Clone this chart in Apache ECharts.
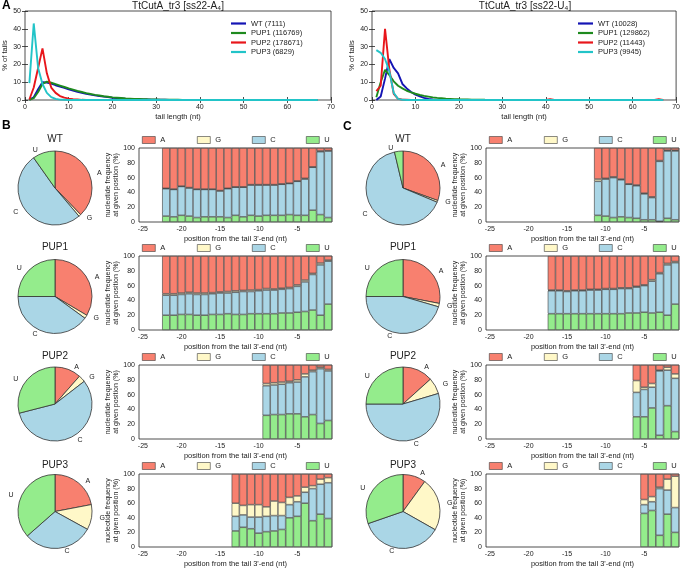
<!DOCTYPE html>
<html><head><meta charset="utf-8">
<script src="https://cdn.jsdelivr.net/npm/echarts@6/dist/echarts.min.js"></script>
<style>html,body{margin:0;padding:0;background:#fff}#c{width:683px;height:569px}</style>
</head><body><div id="c"></div>
<script>
// ---------- DATA ----------
const TITLE_A = 'TtCutA_tr3 [ss22-A\u2084]';
const TITLE_U = 'TtCutA_tr3 [ss22-U\u2084]';
const LINE_NAMES_A = ['WT (7111)', 'PUP1 (116769)', 'PUP2 (178671)', 'PUP3 (6829)'];
const LINE_NAMES_U = ['WT (10028)', 'PUP1 (129862)', 'PUP2 (11443)', 'PUP3 (9945)'];
// % of tails for tail length 1..67
const A4_WT = [0.2,1.5,6,10,9.8,9.2,8.3,7.5,6.8,6,5.3,4.6,4,3.5,3,2.6,2.2,1.9,1.6,1.3,1.1,0.9,0.7,0.6,0.5,0.4,0.3,0.25,0.2,0.15,0.1,0.1,0.08,0.06,0.05,0.04,0.03,0.03,0.02,0.02,0.02,0.01,0.01,0.01,0.01,0.01,0.01,0.01,0.01,0.01,0,0,0,0,0,0,0,0,0,0,0,0,0,0,0,0,0];
const A4_PUP1 = [0.1,1,4.5,9,10.3,9.7,8.9,8.1,7.3,6.5,5.8,5.1,4.5,3.9,3.4,2.9,2.5,2.1,1.8,1.5,1.3,1.1,0.9,0.8,0.65,0.55,0.45,0.38,0.32,0.27,0.22,0.18,0.15,0.12,0.1,0.08,0.07,0.06,0.05,0.04,0.04,0.03,0.03,0.03,0.02,0.02,0.02,0.02,0.02,0.02,0.01,0.01,0.01,0.01,0.01,0.01,0.01,0.01,0.01,0.01,0.01,0.01,0.01,0.01,0.01,0.01,0.01];
const A4_PUP2 = [0.3,7,18,29,15,7,4,2.2,1.3,0.8,0.5,0.3,0.1,0,0,0,0,0,0,0,0,0,0,0,0,0,0,0,0,0,0,0,0,0,0,0,0,0,0,0,0,0,0,0,0,0,0,0,0,0,0,0,0,0,0,0,0,0,0,0,0,0,0,0,0,0,0];
const A4_PUP3 = [9.5,43,18,9,4,1.6,0.6,0.2,0.1,0,0,0,0,0,0,0,0,0,0,0,0,0,0,0,0,0,0,0,0,0,0,0,0,0,0,0,0,0,0,0,0,0,0,0,0,0,0,0,0,0,0,0,0,0,0,0,0,0,0,0,0,0,0,0,0,0,0];
const U4_WT = [0,2,12,23,18,15,9,6.5,4.5,3,2,1.2,0.6,0.3,0.1,0,0,0,0,0,0,0,0,0,0,0,0,0,0,0,0,0,0,0,0,0,0,0,0,0,0,0,0,0,0,0,0,0,0,0,0,0,0,0,0,0,0,0,0,0,0,0,0,0,0,0,0];
const U4_PUP1 = [1.5,10,17,14,10.5,8,6.5,5.2,4.3,3.5,2.8,2.3,1.9,1.5,1.2,1,0.8,0.65,0.5,0.4,0.32,0.26,0.2,0.16,0.13,0.1,0.08,0.06,0.05,0.04,0.03,0.02,0.02,0.01,0.01,0,0,0,0,0,0,0,0,0,0,0,0,0,0,0,0,0,0,0,0,0,0,0,0,0,0,0,0,0,0,0,0];
const U4_PUP2 = [5,8,40,17,3.5,0.7,0.2,0.1,0,0,0,0,0,0,0,0,0,0,0,0,0,0,0,0,0,0,0,0,0,0,0,0,0,0,0,0,0,0,0,0,0.4,0,0,0,0,0,0,0,0,0,0,0,0,0,0,0,0,0,0,0,0,0,0,0,0,0.4,0];
const U4_PUP3 = [28,26.5,23,16,4,0.6,0.1,0,0,0,0,0,0,0,0,0,0,0,0,0,0,0,0,0,0,0,0,0,0,0,0,0,0,0,0,0,0,0,0,0,0,0,0,0,0,0,0,0,0,0,0,0,0,0,0,0,0,0,0,0,0,0,0,0,0,0,0];

const NUCS = ['A', 'G', 'C', 'U'];
const POSITIONS = ['-25','-24','-23','-22','-21','-20','-19','-18','-17','-16','-15','-14','-13','-12','-11','-10','-9','-8','-7','-6','-5','-4','-3','-2','-1'];
const SAMPLE_NAMES = ['WT', 'PUP1', 'PUP2', 'PUP3'];

// Panel B (ss22-A4) – nucleotide frequency (%) from first position to -1
const B_WT_FIRST = -22;
const B_WT_U = [8,7,9,8,6,7,7,7,6,9,7,9,8,9,9,9,10,9,9,16,10,6];
const B_WT_C = [37,37,39,38,38,37,37,35,39,38,40,41,42,41,41,42,42,46,49,58,85,90];
const B_WT_G = [0.5,0.5,0.5,0.5,0.5,0.5,0.5,0.5,0.5,0.5,0.5,0.5,0.5,0.5,0.5,0.5,0.5,0.5,1,0.5,1,0.5];
const B_WT_A = [54.5,55.5,51.5,53.5,55.5,55.5,55.5,57.5,54.5,52.5,52.5,49.5,49.5,49.5,49.5,48.5,47.5,44.5,41,25.5,4,3.5];

const B_PUP1_FIRST = -22;
const B_PUP1_U = [20,20,21,21,20,20,21,21,22,21,21,22,22,22,22,23,23,24,25,27,20,35];
const B_PUP1_C = [27,27,27,28,28,28,28,29,28,30,31,30,31,32,32,32,33,35,40,48,68,58];
const B_PUP1_G = [2,2,2,2,2,2,1.5,1.5,2,2,1.5,2,1.5,2,1.5,1.5,1.5,2,2.5,1.5,2.5,1.5];
const B_PUP1_A = [51,51,50,49,50,50,49.5,48.5,48,47,46.5,46,45.5,44,44.5,43.5,42.5,39,32.5,23.5,9.5,5.5];

const B_PUP2_FIRST = -9;
const B_PUP2_U = [32,33,33,34,34,30,33,21,25];
const B_PUP2_C = [40,40,41,42,43,54,58,74,67];
const B_PUP2_G = [3,3,3,2,3,4,2,2,2];
const B_PUP2_A = [25,24,23,22,20,12,7,3,6];

const B_PUP3_FIRST = -13;
const B_PUP3_U = [22,27,25,19,21,22,24,40,42,60,36,45,39];
const B_PUP3_C = [20,17,16,22,21,21,19,18,20,15,44,41,49];
const B_PUP3_G = [18,13,17,17,13,20,18,10,8,7,4,7,7];
const B_PUP3_A = [40,43,42,42,45,37,39,32,30,18,16,7,5];

// Panel C (ss22-U4)
const C_WT_FIRST = -11;
const C_WT_U = [9,8,6,7,6,5,3,3,1,5,3];
const C_WT_C = [46,50,54,50,45,44,35,30,81,91,93];
const C_WT_G = [3,1,1,1,0.5,1,1,1,1,1,1];
const C_WT_A = [42,41,39,42,48.5,50,61,66,17,3,3];

const C_PUP1_FIRST = -17;
const C_PUP1_U = [22,22,22,22,22,22,22,22,22,22,23,23,24,23,24,20,35];
const C_PUP1_C = [31,31,30,31,31,32,32,33,33,34,33,35,36,43,52,68,56];
const C_PUP1_G = [1,1,1,1,1,1,1,1,1,1,1,1,1,2,1.5,2,1.5];
const C_PUP1_A = [46,46,47,46,46,45,45,44,44,43,43,41,39,32,22.5,10,7.5];

const C_PUP2_FIRST = -6;
const C_PUP2_U = [30,30,42,5,45,10];
const C_PUP2_C = [33,37,28,87,48,72];
const C_PUP2_G = [16,3,5,1,4,6];
const C_PUP2_A = [21,30,25,7,3,12];

const C_PUP3_FIRST = -5;
const C_PUP3_U = [46,50,16,45,20];
const C_PUP3_C = [12,12,64,33,34];
const C_PUP3_G = [7,7,2,15,43];
const C_PUP3_A = [35,31,18,7,3];

// Pie composition (%) in order A, G, C, U
const PIE_B_WT = [37.8,1,51.4,9.8];
const PIE_B_PUP1 = [33.5,1.5,40,25];
const PIE_B_PUP2 = [11.5,3,56.5,29];
const PIE_B_PUP3 = [22,11,30.5,36.5];
const PIE_C_WT = [30.5,0.8,65,3.7];
const PIE_C_PUP1 = [28,1.5,45.5,25];
const PIE_C_PUP2 = [13.3,7.1,54.6,25];
const PIE_C_PUP3 = [10,23.2,36.5,30.3];

// ---------- STYLE / LAYOUT ----------
const FONT = 'Liberation Sans, Arial, sans-serif';
const TXT = '#222';
const NUC_COLOR = {A: '#f8806f', G: '#fff8c8', C: '#aad6e6', U: '#94ec8c'};
const LINE_COLORS = ['#1414b4', '#1e8a1e', '#e8161b', '#22c4c8'];
const ROW_TOP = [148, 256, 365, 474];
const BAR_H = 74;
const PIE_Y = [188, 296.5, 404, 511.5];
const PIE_TITLE_Y = [139, 247, 356, 465];
const COLS = [
  {barLeft: 139, barW: 193, pieX: 55, legX: [142, 197, 252, 306]},
  {barLeft: 486, barW: 193, pieX: 403, legX: [489, 544, 599, 653]}
];

const panels = [
  [{first:B_WT_FIRST,U:B_WT_U,C:B_WT_C,G:B_WT_G,A:B_WT_A,pie:PIE_B_WT},
   {first:B_PUP1_FIRST,U:B_PUP1_U,C:B_PUP1_C,G:B_PUP1_G,A:B_PUP1_A,pie:PIE_B_PUP1},
   {first:B_PUP2_FIRST,U:B_PUP2_U,C:B_PUP2_C,G:B_PUP2_G,A:B_PUP2_A,pie:PIE_B_PUP2},
   {first:B_PUP3_FIRST,U:B_PUP3_U,C:B_PUP3_C,G:B_PUP3_G,A:B_PUP3_A,pie:PIE_B_PUP3}],
  [{first:C_WT_FIRST,U:C_WT_U,C:C_WT_C,G:C_WT_G,A:C_WT_A,pie:PIE_C_WT},
   {first:C_PUP1_FIRST,U:C_PUP1_U,C:C_PUP1_C,G:C_PUP1_G,A:C_PUP1_A,pie:PIE_C_PUP1},
   {first:C_PUP2_FIRST,U:C_PUP2_U,C:C_PUP2_C,G:C_PUP2_G,A:C_PUP2_A,pie:PIE_C_PUP2},
   {first:C_PUP3_FIRST,U:C_PUP3_U,C:C_PUP3_C,G:C_PUP3_G,A:C_PUP3_A,pie:PIE_C_PUP3}]
];

const option = {
  animation: false,
  backgroundColor: '#fff',
  textStyle: {fontFamily: FONT},
  grid: [], xAxis: [], yAxis: [], series: [], legend: [], graphic: []
};

function tick() { return {inside: true, length: 3, lineStyle: {color: TXT, width: 0.8}}; }
function label(show) { return {show: show, fontSize: 7, color: TXT, margin: 4, fontFamily: FONT}; }

// ---------- line charts ----------
function addLineChart(left, names, arrays, title, yNameGap) {
  const gi = option.grid.length;
  option.grid.push({left: left, top: 11, width: 306, height: 89, show: true, borderColor: TXT, borderWidth: 0.8, containLabel: false});
  const xi = option.xAxis.length, yi = option.yAxis.length;
  option.xAxis.push({gridIndex: gi, type: 'value', min: 0, max: 70, interval: 10, position: 'bottom',
    axisLine: {show: false}, axisTick: tick(), axisLabel: label(true), splitLine: {show: false},
    name: 'tail length (nt)', nameLocation: 'middle', nameGap: 13, nameTextStyle: {fontSize: 7.5, color: TXT}});
  option.xAxis.push({gridIndex: gi, type: 'value', min: 0, max: 70, interval: 10, position: 'top',
    axisLine: {show: false}, axisTick: tick(), axisLabel: {show: false}, splitLine: {show: false}});
  option.yAxis.push({gridIndex: gi, type: 'value', min: 0, max: 50, interval: 10, position: 'left',
    axisLine: {show: false}, axisTick: tick(), axisLabel: label(true), splitLine: {show: false},
    name: '% of tails', nameLocation: 'middle', nameGap: yNameGap, nameTextStyle: {fontSize: 7.5, color: TXT}});
  option.yAxis.push({gridIndex: gi, type: 'value', min: 0, max: 50, interval: 10, position: 'right',
    axisLine: {show: false}, axisTick: tick(), axisLabel: {show: false}, splitLine: {show: false}});
  arrays.forEach((arr, k) => {
    option.series.push({type: 'line', name: names[k], xAxisIndex: xi, yAxisIndex: yi,
      data: arr.map((v, i) => [i + 1, v]), symbol: 'none', showSymbol: false,
      lineStyle: {width: 1.9, color: LINE_COLORS[k]}, itemStyle: {color: LINE_COLORS[k]}});
  });
  option.legend.push({orient: 'vertical', left: left + 206, top: 19, itemWidth: 15, itemHeight: 2.2, itemGap: 0.5,
    icon: 'rect', selectedMode: false, data: names, padding: 0,
    textStyle: {fontSize: 7.5, color: TXT, lineHeight: 9, height: 9, fontFamily: FONT}});
  option.graphic.push({type: 'text', x: left + 153, y: 6, silent: true,
    style: {text: title, fill: TXT, font: '10px ' + FONT, align: 'center', verticalAlign: 'middle'}});
}
addLineChart(25, LINE_NAMES_A, [A4_WT, A4_PUP1, A4_PUP2, A4_PUP3], TITLE_A, 15);
addLineChart(372, LINE_NAMES_U, [U4_WT, U4_PUP1, U4_PUP2, U4_PUP3], TITLE_U, 15);

// ---------- bar + pie panels ----------
const tickIdx = (i) => i % 5 === 0;
COLS.forEach((col, c) => {
  panels[c].forEach((p, r) => {
    const top = ROW_TOP[r];
    const gi = option.grid.length;
    option.grid.push({left: col.barLeft, top: top, width: col.barW, height: BAR_H, show: true,
      borderColor: TXT, borderWidth: 0.8});
    const xi = option.xAxis.length, yi = option.yAxis.length;
    option.xAxis.push({gridIndex: gi, type: 'category', data: POSITIONS, position: 'bottom', boundaryGap: true,
      axisLine: {show: false}, axisTick: Object.assign(tick(), {alignWithLabel: true, interval: tickIdx}),
      axisLabel: Object.assign(label(true), {interval: tickIdx}),
      name: "position from the tail 3'-end (nt)", nameLocation: 'middle', nameGap: 13,
      nameTextStyle: {fontSize: 7.5, color: TXT}});
    option.xAxis.push({gridIndex: gi, type: 'category', data: POSITIONS, position: 'top', boundaryGap: true,
      axisLine: {show: false}, axisTick: Object.assign(tick(), {alignWithLabel: true, interval: tickIdx}),
      axisLabel: {show: false}});
    option.yAxis.push({gridIndex: gi, type: 'value', min: 0, max: 100, interval: 20, position: 'left',
      axisLine: {show: false}, axisTick: tick(), axisLabel: label(true), splitLine: {show: false},
      name: 'nucleotide frequency\nat given position (%)', nameLocation: 'middle', nameGap: 16,
      nameTextStyle: {fontSize: 7, lineHeight: 7.5, color: TXT}});
    option.yAxis.push({gridIndex: gi, type: 'value', min: 0, max: 100, interval: 20, position: 'right',
      axisLine: {show: false}, axisTick: tick(), axisLabel: {show: false}, splitLine: {show: false}});
    ['U', 'C', 'G', 'A'].forEach(n => {
      const arr = POSITIONS.map(() => null);
      p[n].forEach((v, i) => { arr[p.first + 25 + i] = v; });
      option.series.push({type: 'bar', name: n, stack: 'st' + gi, xAxisIndex: xi, yAxisIndex: yi,
        data: arr, barCategoryGap: '0%',
        itemStyle: {color: NUC_COLOR[n], borderColor: '#3a3a3a', borderWidth: 0.6}});
    });
    NUCS.forEach((n, k) => {
      option.legend.push({left: col.legX[k], top: top - 12, itemWidth: 13, itemHeight: 7, icon: 'rect',
        selectedMode: false, data: [n], padding: 0,
        itemStyle: {borderColor: '#3a3a3a', borderWidth: 0.6},
        textStyle: {fontSize: 7.5, color: TXT, fontFamily: FONT}});
    });
    option.series.push({type: 'pie', name: 'pie' + gi, center: [col.pieX, PIE_Y[r]], radius: 37,
      startAngle: 90, clockwise: true, avoidLabelOverlap: false, silent: true,
      label: {position: 'outside', fontSize: 7, color: TXT, fontFamily: FONT, formatter: '{b}'},
      labelLine: {show: false, length: 3, length2: 0},
      itemStyle: {borderColor: '#333', borderWidth: 0.8},
      data: NUCS.map((n, k) => ({name: n, value: p.pie[k], itemStyle: {color: NUC_COLOR[n]}}))});
    option.graphic.push({type: 'text', x: col.pieX, y: PIE_TITLE_Y[r], silent: true,
      style: {text: SAMPLE_NAMES[r], fill: TXT, font: '10px ' + FONT, align: 'center', verticalAlign: 'middle'}});
  });
});

// panel letters
[['A', 2, 6], ['B', 2, 126], ['C', 343, 127]].forEach(([t, x, y]) => {
  option.graphic.push({type: 'text', x: x, y: y, silent: true,
    style: {text: t, fill: '#000', font: 'bold 12px ' + FONT, align: 'left', verticalAlign: 'middle'}});
});

const chart = echarts.init(document.getElementById('c'), null, {renderer: 'canvas'});
chart.setOption(option);
</script></body></html>
